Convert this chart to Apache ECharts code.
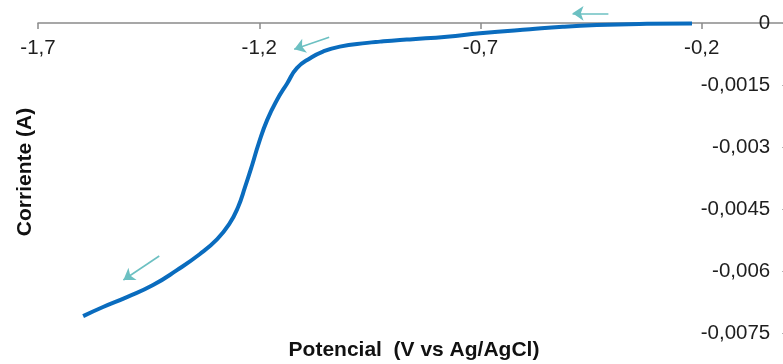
<!DOCTYPE html>
<html>
<head>
<meta charset="utf-8">
<script src="https://cdn.jsdelivr.net/npm/echarts@6/dist/echarts.min.js"></script>
<style>
  html, body { margin: 0; padding: 0; background: #ffffff; }
  #chart { width: 783px; height: 364px; }
</style>
</head>
<body>
<div id="chart"></div>
<script>
// ---- data ----
const potential = [-0.222, -0.324, -0.437, -0.514, -0.588, -0.701, -0.776, -0.853, -0.882, -0.927,
  -0.956, -1.018, -1.056, -1.085, -1.115, -1.137, -1.160, -1.182, -1.201, -1.216,
  -1.232, -1.248, -1.268, -1.295, -1.334, -1.386, -1.440, -1.499, -1.553, -1.598];
const current = [-0.00001, -0.00002, -0.00005, -0.00009, -0.00015, -0.00025, -0.00033, -0.00039, -0.00041, -0.00045,
  -0.00048, -0.00057, -0.00069, -0.00085, -0.00109, -0.00146, -0.00186, -0.00234, -0.00290, -0.00343,
  -0.00396, -0.00445, -0.00486, -0.00522, -0.00558, -0.00597, -0.00633, -0.00662, -0.00686, -0.00708];
const xTicks = [-1.7, -1.2, -0.7, -0.2];
const yTicks = [0, -0.0015, -0.003, -0.0045, -0.006, -0.0075];
// scan-direction arrows: [startV, startI, endV, endI]
const arrows = [
  [-0.411, 0.000234, -0.492, 0.000234],
  [-1.042, -0.000345, -1.121, -0.000635],
  [-1.426, -0.005628, -1.507, -0.006208]
];
const xTitle = 'Potencial  (V vs Ag/AgCl)';
const yTitle = 'Corriente (A)';

const fontFam = '"Liberation Sans", Arial, sans-serif';
const fmt = v => {
  const r = parseFloat(Number(v).toFixed(5));
  return String(r).replace('.', ',');
};

const chart = echarts.init(document.getElementById('chart'), null, { renderer: 'canvas' });
chart.setOption({
  backgroundColor: '#ffffff',
  animation: false,
  grid: {
    left: 38, top: 23, width: 752.25, height: 310.5,
    containLabel: false, outerBoundsMode: 'none'
  },
  xAxis: {
    type: 'value', position: 'top', min: -1.7, max: 0,
    axisLine: { show: true, onZero: false, lineStyle: { color: '#8a8a8a', width: 1.5 } },
    axisTick: { show: true, inside: true, length: 6, customValues: xTicks, lineStyle: { color: '#8a8a8a', width: 1.5 } },
    axisLabel: {
      show: true, inside: true, margin: 15, customValues: xTicks,
      formatter: v => fmt(v), color: '#1e1e1e', fontSize: 20.5, fontFamily: fontFam
    },
    splitLine: { show: false }
  },
  yAxis: {
    type: 'value', position: 'right', min: -0.0075, max: 0,
    axisLine: { show: false },
    axisTick: { show: true, inside: true, length: 8, customValues: yTicks, lineStyle: { color: '#9a9a9a' } },
    axisLabel: {
      show: true, inside: true, margin: 20, customValues: yTicks,
      formatter: v => fmt(v), color: '#1e1e1e', fontSize: 20.5, fontFamily: fontFam
    },
    splitLine: { show: false }
  },
  series: [
    {
      type: 'line',
      data: potential.map((v, i) => [v, current[i]]),
      showSymbol: false, symbol: 'none',
      smooth: 0.5,
      lineStyle: { color: '#0a6cbe', width: 4 },
      clip: true
    },
    {
      type: 'lines',
      coordinateSystem: 'cartesian2d',
      clip: false,
      symbol: ['none', 'arrow'],
      symbolSize: 11,
      lineStyle: { color: '#6cc0c2', width: 1.6, opacity: 1 },
      data: arrows.map(a => ({ coords: [[a[0], a[1]], [a[2], a[3]]] })),
      silent: true
    }
  ],
  graphic: [
    {
      type: 'text', x: 414, y: 350,
      style: { text: xTitle, font: 'bold 21px ' + fontFam, fill: '#111', align: 'center', verticalAlign: 'middle' }
    },
    {
      type: 'text', x: 25, y: 172, rotation: Math.PI / 2,
      style: { text: yTitle, font: 'bold 21px ' + fontFam, fill: '#111', align: 'center', verticalAlign: 'middle' }
    }
  ]
});
</script>
</body>
</html>
